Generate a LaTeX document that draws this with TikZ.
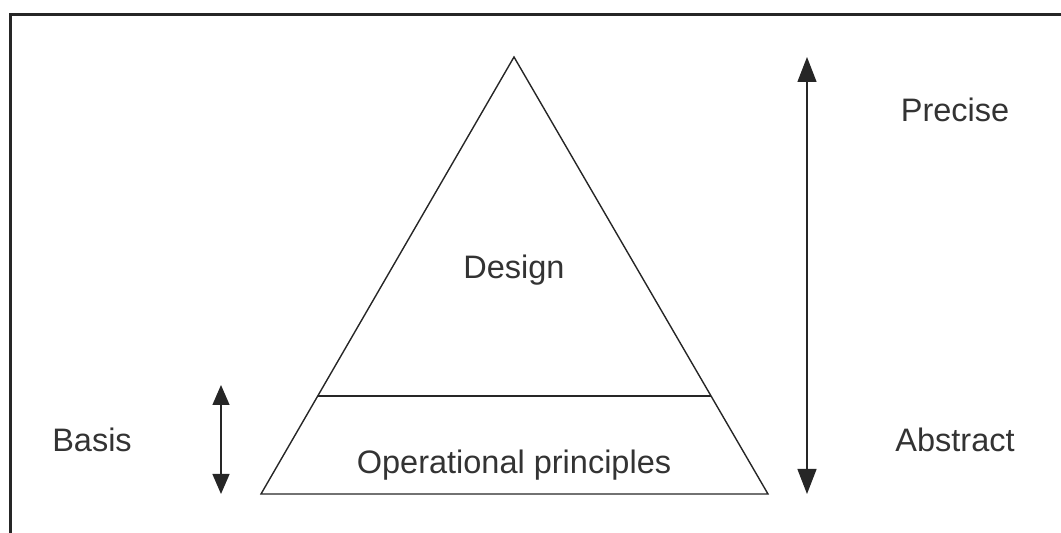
\documentclass[tikz,border=0pt]{standalone}
\usepackage{fontspec}
\setmainfont{Liberation Sans}
\usetikzlibrary{arrows.meta}

\begin{document}
\begin{tikzpicture}[x=1pt,y=1pt,
    lbl/.style={text=black!80,font=\fontsize{32.5}{38}\selectfont},
    tip/.style={{Triangle[length=25pt,width=19pt]}-{Triangle[length=25pt,width=19pt]}}]

\useasboundingbox (0,0) rectangle (1061,533);
\draw[line width=3pt,black!85] (10,0)--(10,518)--(1061,518);

% pyramid
\coordinate (top) at (514,476);
\coordinate (bl) at (261,39);
\coordinate (br) at (768,39);
\coordinate (ml) at (317.7,137);
\coordinate (mr) at (711,137);
\draw[line width=1.4pt,black!85] (top)--(bl)--(br)--cycle;
\draw[line width=1.4pt,black!85] (ml)--(mr);

\node[lbl] (design) at (514,263) {Design};
\node[lbl] (oper) at (514,68) {Operational principles};

\node[lbl] (basis) at (92,93) {Basis};
\coordinate (b1) at (221,148);
\coordinate (b2) at (221,39);
\draw[line width=1.3pt,black!85,{Triangle[length=20pt,width=17pt]}-{Triangle[length=20pt,width=17pt]}] (b1)--(b2);

\coordinate (p1) at (807,476);
\coordinate (p2) at (807,39);
\draw[line width=1.3pt,black!85,tip] (p1)--(p2);
\node[lbl] (precise) at (955,423) {Precise};
\node[lbl] (abstract) at (955,93) {Abstract};
\end{tikzpicture}
\end{document}
